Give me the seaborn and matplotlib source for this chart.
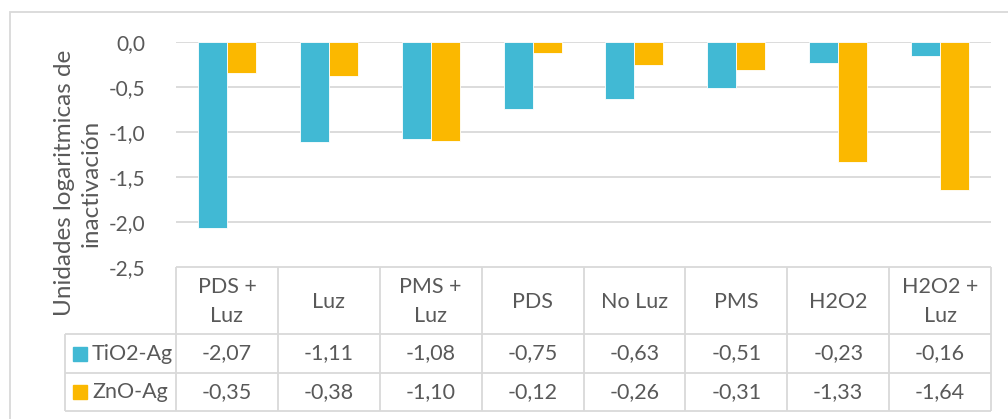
import matplotlib
matplotlib.use("Agg")
import matplotlib.pyplot as plt
import matplotlib.transforms as mtransforms
from matplotlib.patches import Rectangle
import seaborn as sns
import pandas as pd

categories = ["PDS + Luz", "Luz", "PMS + Luz", "PDS", "No Luz", "PMS", "H2O2", "H2O2 + Luz"]
tio2_ag = [-2.07, -1.11, -1.08, -0.75, -0.63, -0.51, -0.23, -0.16]
zno_ag = [-0.35, -0.38, -1.10, -0.12, -0.26, -0.31, -1.33, -1.64]
series_names = ["TiO2-Ag", "ZnO-Ag"]
y_ticks = [0.0, -0.5, -1.0, -1.5, -2.0, -2.5]
y_title = "Unidades logaritmicas de\ninactivación"

colors = ["#41B9D4", "#FBB800"]
text_color = "#595959"
grid_color = "#D9D9D9"

sns.set_theme(style="white")
plt.rcParams["font.family"] = ["Lato", "DejaVu Sans"]

df = pd.DataFrame({
    "cat": categories * 2,
    "val": tio2_ag + zno_ag,
    "serie": [series_names[0]] * len(categories) + [series_names[1]] * len(categories),
})

W, H = 1008, 419
fig = plt.figure(figsize=(W / 100, H / 100), dpi=100)
ax_l, ax_r, ax_t, ax_b = 176, 991, 42, 267
ax = fig.add_axes([ax_l / W, 1 - ax_b / H, (ax_r - ax_l) / W, (ax_b - ax_t) / H])

sns.barplot(data=df, x="cat", y="val", hue="serie", palette=colors, order=categories,
            hue_order=series_names, width=0.57, gap=0, ax=ax, legend=False, saturation=1,
            edgecolor="white", linewidth=0.6, errorbar=None)

FS_TICK = 15
FS_TAB = 15.5
ax.set_ylim(-2.5, 0)
ax.set_xlim(-0.5, len(categories) - 0.5)
ax.set_yticks(y_ticks)
ax.set_yticklabels([f"{v:.1f}".replace(".", ",") for v in y_ticks], color=text_color,
                   fontsize=FS_TICK)
ax.tick_params(axis="y", length=0, pad=22)
ax.set_xticks([])
ax.set_xlabel("")
ax.set_ylabel("")
for s in ax.spines.values():
    s.set_visible(False)
for v in y_ticks[:-1]:
    ax.axhline(v, color=grid_color, lw=1.3, zorder=0)

# data table below the plot
tr = mtransforms.blended_transform_factory(ax.transData, ax.transAxes)
def ay(py):
    return 1 - (py - ax_t) / (ax_b - ax_t)

unit = (ax_r - ax_l) / len(categories)
x_leg = -0.5 - (ax_l - 65) / unit
row_edges = [267, 334, 373, 411]
n = len(categories)
lk = dict(color=grid_color, lw=1.3, clip_on=False, transform=tr, solid_capstyle="butt")
ax.plot([-0.5, n - 0.5], [ay(267)] * 2, **lk)
for py in row_edges[1:]:
    ax.plot([x_leg, n - 0.5], [ay(py)] * 2, **lk)
for k in range(n + 1):
    ax.plot([k - 0.5] * 2, [ay(267), ay(411)], **lk)
ax.plot([x_leg] * 2, [ay(334), ay(411)], **lk)

for i, c in enumerate(categories):
    ax.text(i, ay((267 + 334) / 2 + 1), c.replace(" + ", " +\n"), transform=tr, ha="center",
            va="center", color=text_color, fontsize=FS_TAB, linespacing=1.55)
for r, (name, vals) in enumerate(zip(series_names, [tio2_ag, zno_ag])):
    yc_px = (row_edges[r + 1] + row_edges[r + 2]) / 2
    yc = ay(yc_px)
    for i, v in enumerate(vals):
        ax.text(i, yc, f"{v:.2f}".replace(".", ","), transform=tr, ha="center", va="center",
                color=text_color, fontsize=FS_TAB)
    fig.patches.append(Rectangle((73 / W, 1 - yc_px / H - 7 / H), 14 / W, 14 / H,
                                 transform=fig.transFigure, color=colors[r]))
    fig.text(92 / W, 1 - yc_px / H, name, ha="left", va="center", color=text_color,
             fontsize=FS_TAB)

fig.text(78 / W, 1 - 183 / H, y_title, rotation=90, ha="center", va="center",
         multialignment="center", color=text_color, fontsize=17.5, linespacing=1.35)

# chart border
fig.patches.append(Rectangle((10 / W, -0.1), 1.2, 1 - 12 / H + 0.1, transform=fig.transFigure,
                             fill=False, edgecolor=grid_color, lw=1.3))

fig.savefig("out.png", dpi=100)
